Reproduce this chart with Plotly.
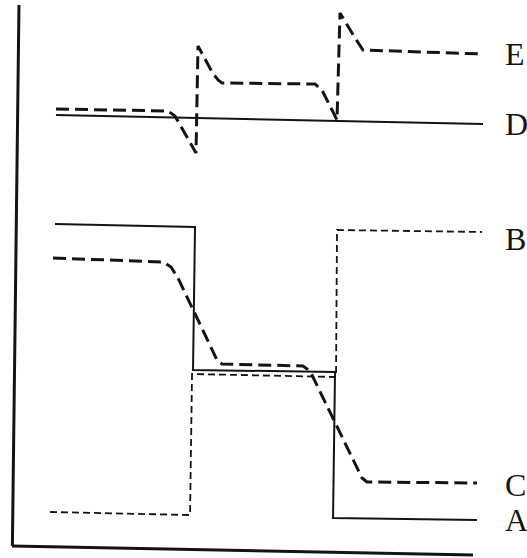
import plotly.graph_objects as go

# Time axis: 0..3, with the two switching events near t=1 and t=2.
# Signal axis in arbitrary units.

# A: solid step trace, falls at each event
a_t = [0.000, 0.986, 0.972, 1.972, 1.958, 2.972]
a_y = [65.2, 64.6, 36.0, 35.6, 6.4, 6.0]

# B: fine dashed step trace, rises at each event
b_t = [-0.035, 0.951, 0.965, 1.979, 1.986, 3.007]
b_y = [7.6, 7.0, 35.2, 34.6, 64.0, 63.6]

# C: dashed trace with gradual transitions
c_t = [-0.014, 0.761, 0.817, 0.866, 1.141, 1.176, 1.746, 1.796, 2.162, 2.197, 2.972]
c_y = [58.4, 57.6, 56.6, 54.4, 38.0, 37.2, 36.8, 35.8, 14.4, 13.6, 13.4]

# D: solid baseline
d_t = [0.007, 3.014]
d_y = [87.0, 85.2]

# E: dashed trace with undershoot / overshoot spikes
e_t = [0.007, 0.796, 0.845, 0.993, 1.007, 1.106, 1.148, 1.176, 1.831, 1.880, 1.986,
       2.007, 2.113, 2.169, 3.014]
e_y = [88.2, 87.8, 86.8, 79.4, 100.8, 95.6, 94.0, 93.4, 93.2, 92.0, 86.0,
       107.4, 102.4, 100.0, 99.2]

labels = ["A", "B", "C", "D", "E"]
series = {
    "A": (a_t, a_y),
    "B": (b_t, b_y),
    "C": (c_t, c_y),
    "D": (d_t, d_y),
    "E": (e_t, e_y),
}
styles = {
    "A": dict(width=2, dash="solid"),
    "B": dict(width=1.8, dash="7px,4px"),
    "C": dict(width=3, dash="13px,6px"),
    "D": dict(width=2, dash="solid"),
    "E": dict(width=3, dash="13px,6px"),
}
label_shift = {"A": 0, "B": -7, "C": -2, "D": 0, "E": 0}

ink = "#141414"
fig = go.Figure()
for name in labels:
    t, y = series[name]
    fig.add_trace(go.Scatter(
        x=t, y=y, mode="lines", name=name,
        line=dict(color=ink, width=styles[name]["width"], dash=styles[name]["dash"]),
        hoverinfo="skip",
    ))
    fig.add_annotation(
        x=3.155, y=y[-1], text=name, showarrow=False,
        xanchor="left", yanchor="middle", yshift=label_shift[name],
        font=dict(family="Liberation Serif, Times New Roman, serif", size=32, color=ink),
    )

# Axis frame (slightly skewed, as drawn)
fig.add_shape(type="line", xref="paper", yref="paper",
              x0=0.036, y0=0.991, x1=0.0235, y1=0.0215,
              line=dict(color=ink, width=3))
fig.add_shape(type="line", xref="paper", yref="paper",
              x0=0.0228, y0=0.0215, x1=0.8975, y1=0.0054,
              line=dict(color=ink, width=3))

fig.update_layout(
    width=527, height=558,
    margin=dict(l=0, r=0, t=0, b=0),
    paper_bgcolor="white", plot_bgcolor="white",
    showlegend=False,
    xaxis=dict(range=[-55 / 142, 472 / 142], visible=False, fixedrange=True),
    yaxis=dict(range=[-1.6, 110], visible=False, fixedrange=True),
)

fig.write_html("out.html")
